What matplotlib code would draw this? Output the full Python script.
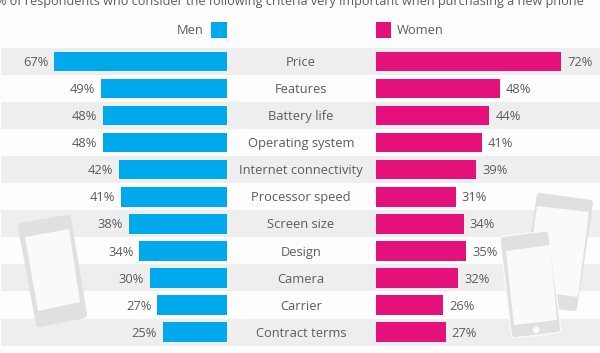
import matplotlib
matplotlib.use('Agg')
import matplotlib.pyplot as plt
from matplotlib.patches import Polygon, Circle, Rectangle

# --- Data ---
criteria = ['Price', 'Features', 'Battery life', 'Operating system',
            'Internet connectivity', 'Processor speed', 'Screen size',
            'Design', 'Camera', 'Carrier', 'Contract terms']
men = [67, 49, 48, 48, 42, 41, 38, 34, 30, 27, 25]
women = [72, 48, 44, 41, 39, 31, 34, 35, 32, 26, 27]
subtitle = '% of respondents who consider the following criteria very important when purchasing a new phone'

# --- Colours and layout (pixels) ---
BLUE = '#00a9ec'
PINK = '#e5117a'
BAND = '#eeeeee'
TEXT = '#5c5c5c'
PHONE = '#e0e0e0'
SCREEN = '#fafafa'
PX_PER_PCT = 2.575
MEN_X = 227
WOMEN_X = 376
MID_X = 301
ROW_0 = 61.5
ROW_STEP = 27.05
TEXT_DY = 1.2
FS = 9.3

plt.rcParams['font.family'] = ['Open Sans', 'DejaVu Sans']

fig = plt.figure(figsize=(6, 3.53), dpi=100, facecolor='#fdfdfd')
ax = fig.add_axes([0, 0, 1, 1])
ax.set_xlim(0, 600)
ax.set_ylim(353, 0)
ax.axis('off')

rows = [ROW_0 + i * ROW_STEP for i in range(len(criteria))]

# --- Background bands ---
for i, y in enumerate(rows):
    if i % 2 == 0:
        ax.add_patch(Rectangle((1, y - 13.5), 599, 27, color=BAND, lw=0, zorder=1))


# --- Phones (decoration): thick round stroke gives the rounded corners ---
def phone(outer, screen, z, lw=4.5):
    ax.add_patch(Polygon(outer, closed=True, fc=PHONE, ec=PHONE, lw=lw, joinstyle='round', zorder=z))
    ax.add_patch(Polygon(screen, closed=True, fc=SCREEN, ec='none', zorder=z))


phone([(21, 226), (68, 218), (84, 315), (39, 324)],
      [(25, 237), (69, 229), (80, 302), (38, 311)], 2)
phone([(540, 196), (590, 203), (574, 308), (523, 302)],
      [(537, 206), (589, 212), (578, 297), (526, 290)], 2)
# white halo under the front phone, then the phone itself
ax.add_patch(Polygon([(504, 240), (545, 235), (557, 329), (515, 334)], closed=True,
                     fc='#fafafa', ec='#fafafa', lw=6.5, joinstyle='round', zorder=3))
phone([(504, 240), (545, 235), (557, 329), (515, 334)],
      [(506, 251), (550, 245), (557, 320), (514, 325)], 3)
ax.add_patch(Circle((536, 330), 3.5, fc=SCREEN, ec='none', zorder=3))

# --- Bars ---
men_w = [v * PX_PER_PCT for v in men]
women_w = [v * PX_PER_PCT for v in women]
ax.barh(rows, men_w, left=[MEN_X - w for w in men_w], height=19.5, color=BLUE, zorder=4)
ax.barh(rows, women_w, left=WOMEN_X, height=19.5, color=PINK, zorder=4)

# --- Labels ---
for y, name, m, w, mw, ww in zip(rows, criteria, men, women, men_w, women_w):
    ty = y + TEXT_DY
    ax.text(MID_X, ty, name, ha='center', va='center', fontsize=FS, color=TEXT, zorder=5)
    ax.text(MEN_X - mw - 6, ty, f'{m}%', ha='right', va='center', fontsize=FS, color=TEXT, zorder=5)
    ax.text(WOMEN_X + ww + 6, ty, f'{w}%', ha='left', va='center', fontsize=FS, color=TEXT, zorder=5)

# --- Legend ---
ax.add_patch(Rectangle((211, 22), 16, 15.5, color=BLUE, lw=0))
ax.add_patch(Rectangle((376, 22), 15, 15.5, color=PINK, lw=0))
ax.text(204, 31, 'Men', ha='right', va='center', fontsize=FS, color=TEXT)
ax.text(397, 31, 'Women', ha='left', va='center', fontsize=FS, color=TEXT)

# --- Subtitle, cut by the top edge as in the reference ---
ax.text(290, 1, subtitle, ha='center', va='center', fontsize=9.1, color=TEXT)

fig.savefig('out.png', dpi=100, facecolor=fig.get_facecolor())
